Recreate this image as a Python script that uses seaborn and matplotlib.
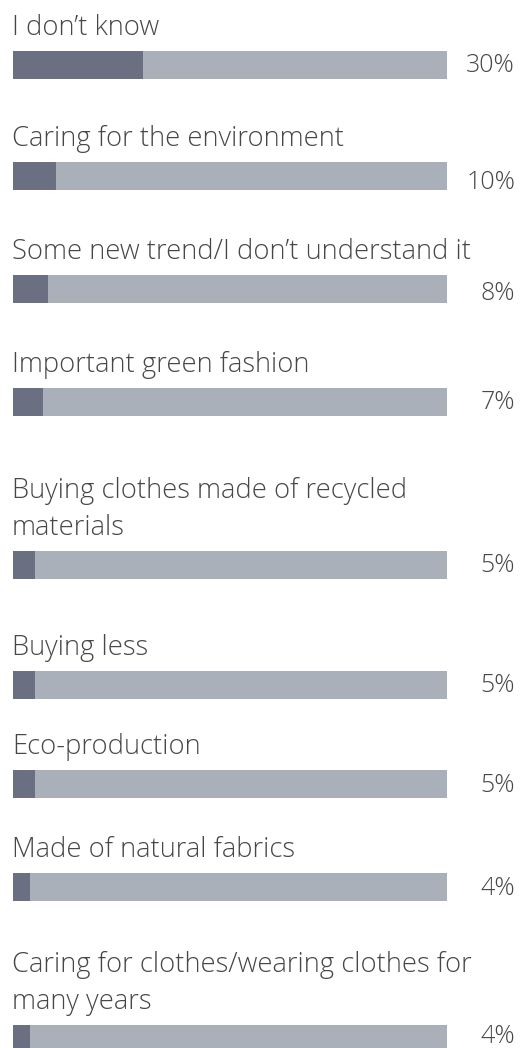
import matplotlib
matplotlib.use("Agg")
import matplotlib.pyplot as plt
import seaborn as sns
import pandas as pd

# ---- data ----
categories = [
    "I don’t know",
    "Caring for the environment",
    "Some new trend/I don’t understand it",
    "Important green fashion",
    "Buying clothes made of recycled\nmaterials",
    "Buying less",
    "Eco-production",
    "Made of natural fabrics",
    "Caring for clothes/wearing clothes for\nmany years",
]
values = [30, 10, 8, 7, 5, 5, 5, 4, 4]
value_labels = ["30%", "10%", "8%", "7%", "5%", "5%", "5%", "4%", "4%"]
full_scale = 100

# ---- layout (pixels) ----
W, H, DPI = 520, 1048, 100
bar_tops = [51, 162, 275, 388, 551, 671, 770, 873, 1025]
pct_baselines = [72, 189, 300, 409, 572, 692, 792, 895, 1043]
bar_h = 28
bar_left, bar_right = 13, 447
line_gap = 37
label_offset = 16

DARK = "#6b6f82"
LIGHT = "#aab0ba"
TXT = "#474747"
FS = 19.7
FS_PCT = 18.0

sns.set_theme(style="white")
plt.rcParams['font.family'] = ['Open Sans', 'DejaVu Sans']

fig = plt.figure(figsize=(W / DPI, H / DPI), dpi=DPI)
fig.patch.set_facecolor("white")

for i, (cat, val, lab) in enumerate(zip(categories, values, value_labels)):
    top = bar_tops[i]
    ax = fig.add_axes([bar_left / W, 1 - (top + bar_h) / H,
                       (bar_right - bar_left) / W, bar_h / H])
    df = pd.DataFrame({"cat": [cat], "total": [full_scale], "value": [val]})
    sns.barplot(data=df, x="total", y="cat", color=LIGHT, width=1,
                saturation=1, linewidth=0, ax=ax)
    sns.barplot(data=df, x="value", y="cat", color=DARK, width=1,
                saturation=1, linewidth=0, ax=ax)
    ax.set_xlim(0, full_scale)
    ax.set_ylim(0.5, -0.5)
    ax.axis("off")

    lines = cat.split("\n")
    n = len(lines)
    for j, line in enumerate(lines):
        base = top - label_offset - (n - 1 - j) * line_gap
        fig.text(12 / W, 1 - base / H, line, ha="left", va="baseline",
                 fontsize=FS, color=TXT, fontweight="light")
    fig.text(515 / W, 1 - pct_baselines[i] / H, lab, ha="right",
             va="baseline", fontsize=FS_PCT, color=TXT, fontweight="light")

fig.savefig("out.png", dpi=DPI, facecolor="white")
